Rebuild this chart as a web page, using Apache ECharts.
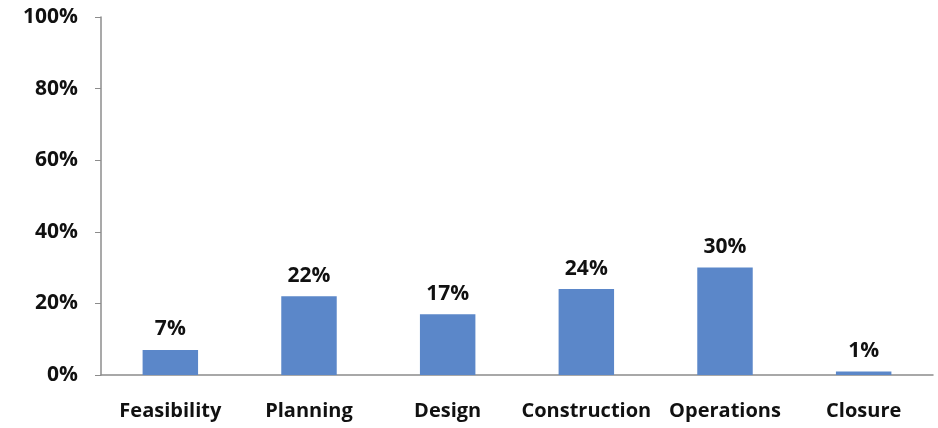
<!DOCTYPE html>
<html><head><meta charset="utf-8">
<script src="https://cdn.jsdelivr.net/npm/echarts@6/dist/echarts.min.js"></script>
<style>html,body{margin:0;padding:0;background:#fff}#c{width:938px;height:428px}</style>
</head><body><div id="c"></div>
<script>
const categories = ["Feasibility","Planning","Design","Construction","Operations","Closure"];
const values = [7,22,17,24,30,1];
const yTicks = [0,20,40,60,80,100];

const chart = echarts.init(document.getElementById('c'));
const font = '"Open Sans", sans-serif';
chart.setOption({
  animation:false,
  grid:{left:101,right:5,top:17,bottom:53,containLabel:false},
  xAxis:{type:'category',data:categories,
    axisLine:{lineStyle:{color:'#8c8c8c',width:1.5}},
    axisTick:{show:false},
    axisLabel:{interval:0,hideOverlap:false,color:'#111',fontFamily:font,fontWeight:'bold',fontSize:20,margin:26}},
  yAxis:{type:'value',min:yTicks[0],max:yTicks[yTicks.length-1],interval:20,
    axisLine:{show:true,lineStyle:{color:'#8c8c8c',width:1.5}},
    axisTick:{show:true,length:6,lineStyle:{color:'#8c8c8c'}},
    splitLine:{show:false},
    axisLabel:{color:'#111',fontFamily:font,fontWeight:'bold',fontSize:21,margin:23,formatter:'{value}%'}},
  series:[{type:'bar',data:values,barWidth:'40%',
    itemStyle:{color:'#5b87c9'},
    label:{show:true,position:'top',distance:10,formatter:'{c}%',color:'#111',fontFamily:font,fontWeight:'bold',fontSize:21}}]
});
</script></body></html>
